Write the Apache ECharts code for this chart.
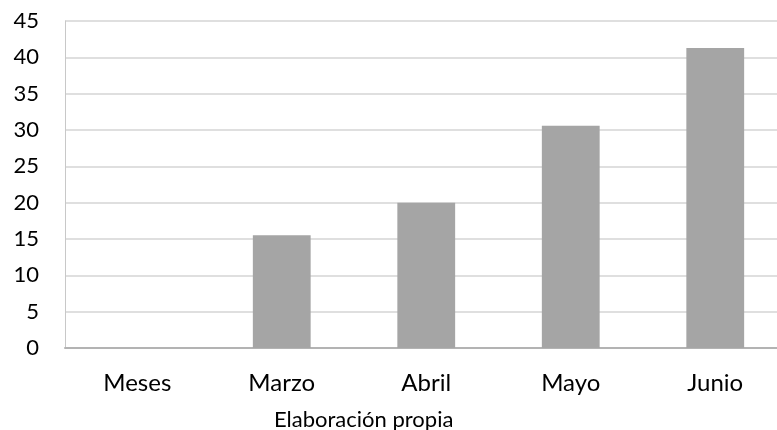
<!DOCTYPE html>
<html>
<head>
<meta charset="utf-8">
<style>
  html, body { margin: 0; padding: 0; background: #ffffff; }
  #chart { width: 777px; height: 430px; }
</style>
<script src="https://cdn.jsdelivr.net/npm/echarts@6/dist/echarts.min.js"></script>
</head>
<body>
<div id="chart"></div>
<script>
// Monthly values
const categories = ['Meses', 'Marzo', 'Abril', 'Mayo', 'Junio'];
const values = [null, 15.5, 20, 30.6, 41.3];
const yTicks = { min: 0, max: 45, interval: 5 };
const sourceNote = 'Elaboración propia';

const fontFamily = 'Lato, "Open Sans", "Noto Sans", sans-serif';

const chart = echarts.init(document.getElementById('chart'), null, { renderer: 'canvas' });

chart.setOption({
  animation: false,
  backgroundColor: '#ffffff',
  title: {
    text: sourceNote,
    left: 274,
    top: 409,
    padding: 0,
    textStyle: { fontFamily, fontSize: 22, fontWeight: 'normal', color: '#000000' }
  },
  grid: {
    left: 65, width: 722.5, top: 21, height: 327,
    containLabel: false,
    outerBoundsMode: 'none'
  },
  xAxis: {
    type: 'category',
    data: categories,
    axisLine: { show: true, lineStyle: { color: '#b3b3b3', width: 2 } },
    axisTick: { show: false },
    axisLabel: { color: '#000000', fontFamily, fontSize: 24, margin: 23 },
    splitLine: { show: false }
  },
  yAxis: {
    type: 'value',
    min: yTicks.min,
    max: yTicks.max,
    interval: yTicks.interval,
    axisLine: { show: true, lineStyle: { color: '#c8c8c8', width: 1 } },
    axisTick: { show: false },
    axisLabel: { color: '#000000', fontFamily, fontSize: 22, margin: 26 },
    splitLine: { show: true, lineStyle: { color: '#d4d4d4', width: 1.5 } }
  },
  series: [{
    type: 'bar',
    data: values,
    barWidth: '40%',
    itemStyle: { color: '#a5a5a5' }
  }]
});
</script>
</body>
</html>
